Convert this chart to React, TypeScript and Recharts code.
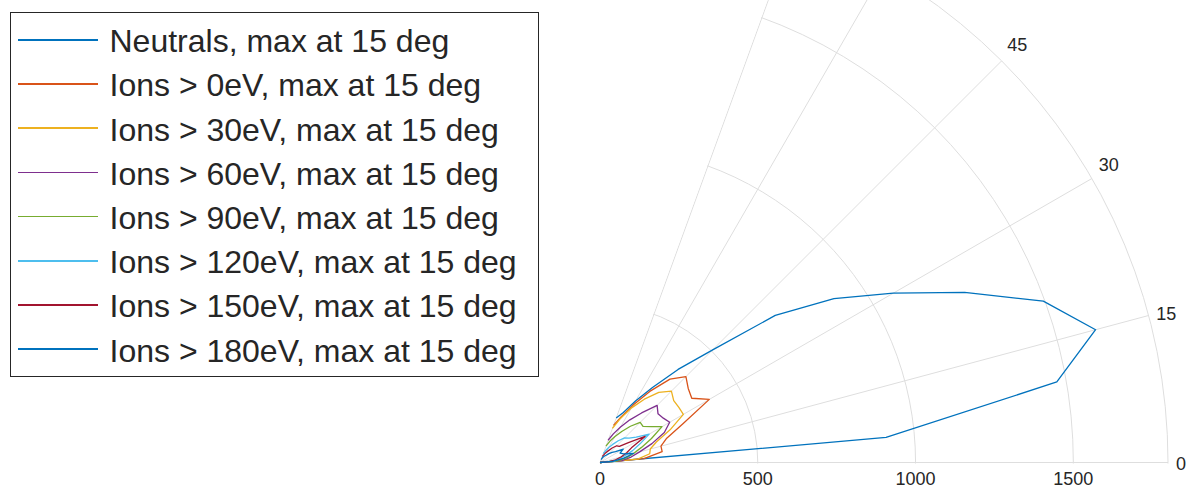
import {
  RadarChart,
  Radar,
  PolarGrid,
  PolarAngleAxis,
  PolarRadiusAxis,
  Legend,
} from 'recharts'

// polar angle of each sample, degrees (theta range is 0..70)
const angles = [0, 5, 10, 15, 20, 25, 30, 35, 40, 45, 50, 55, 60, 65, 70]

// yield per angle
const neutrals = [0, 910, 1470, 1626, 1495, 1275, 1073, 905, 725, 505, 385, 290, 225, 175, 150]
const ions0 = [0, 140, 200, 200, 225, 290, 400, 355, 365, 385, 345, 275, 210, 160, 125]
const ions30 = [0, 120, 160, 165, 190, 245, 305, 305, 305, 320, 290, 245, 200, 155, 115]
const ions60 = [0, 70, 100, 130, 175, 225, 255, 245, 240, 256, 205, 165, 130, 100, 75]
const ions90 = [0, 55, 85, 110, 140, 180, 227, 198, 178, 180, 150, 120, 95, 75, 55]
const ions120 = [0, 45, 60, 80, 110, 140, 180, 140, 120, 110, 90, 70, 55, 40, 30]
const ions150 = [0, 30, 50, 70, 90, 110, 165, 110, 80, 75, 60, 45, 35, 25, 20]
const ions180 = [0, 40, 75, 110, 80, 70, 85, 60, 50, 40, 30, 25, 20, 15, 10]

const angleTicks = [0, 15, 30, 45, 60, 70]
const radiusTicks = [0, 500, 1000, 1500, 1800]
const RMAX = 1800
const TMAX = 70

const series = [
  { key: 'neutrals', name: 'Neutrals, max at 15 deg', color: '#0072BD', values: neutrals },
  { key: 'ions0', name: 'Ions > 0eV, max at 15 deg', color: '#D95319', values: ions0 },
  { key: 'ions30', name: 'Ions > 30eV, max at 15 deg', color: '#EDB120', values: ions30 },
  { key: 'ions60', name: 'Ions > 60eV, max at 15 deg', color: '#7E2F8E', values: ions60 },
  { key: 'ions90', name: 'Ions > 90eV, max at 15 deg', color: '#77AC30', values: ions90 },
  { key: 'ions120', name: 'Ions > 120eV, max at 15 deg', color: '#4DBEEE', values: ions120 },
  { key: 'ions150', name: 'Ions > 150eV, max at 15 deg', color: '#A2142F', values: ions150 },
  { key: 'ions180', name: 'Ions > 180eV, max at 15 deg', color: '#0072BD', values: ions180 },
]

const data = angles.map((angle, i) => {
  const row: Record<string, number> = { angle }
  series.forEach((s) => {
    row[s.key] = s.values[i]
  })
  return row
})

const W = 1187
const H = 489
const CX = 600
const CY = 462.5
const OUTER = 568
const FONT = '"Liberation Sans", Arial, Helvetica, sans-serif'
const TEXT = '#262626'
const GRID = '#dedede'

// wedge between 0 and TMAX degrees, used to cut the full grid circles
const tan = Math.tan((TMAX * Math.PI) / 180)
const wedge = [
  [CX - 1.1, CY + 1],
  [CX + 1000, CY + 1],
  [CX + 1000, CY - 2000],
  [CX - 1.1 + 2001 / tan, CY - 2000],
]
  .map((p) => p.join(','))
  .join(' ')

function AngleTick(props: any) {
  const { x, y, payload } = props
  const a = Number(payload.value)
  const ty = a < 20 ? y + 1 : y - 10
  if (ty < 0) return <g />
  return (
    <text
      x={x}
      y={ty}
      textAnchor="start"
      dominantBaseline="central"
      fontSize={18}
      fontFamily={FONT}
      fill={TEXT}
    >
      {a}
    </text>
  )
}

function RadiusTick(props: any) {
  const { x, y, payload } = props
  if (payload.value === RMAX) return <g />
  return (
    <text
      x={x}
      y={y + 16.5}
      textAnchor="middle"
      dominantBaseline="central"
      fontSize={18}
      fontFamily={FONT}
      fill={TEXT}
    >
      {payload.value}
    </text>
  )
}

// polar line plot: an open polyline through the radar points
function openCurve(color: string) {
  return (props: any) => {
    const pts = props.points || []
    const d = pts.map((p: any, i: number) => `${i ? 'L' : 'M'}${p.x},${p.y}`).join('')
    return <path d={d} fill="none" stroke={color} strokeWidth={1.3} strokeLinejoin="round" />
  }
}

function LegendBox() {
  return (
    <div
      style={{
        boxSizing: 'border-box',
        width: 529,
        height: 365,
        border: '1.5px solid #262626',
        background: '#fff',
        paddingTop: 4.7,
        fontFamily: FONT,
      }}
    >
      {series.map((s) => (
        <div key={s.key} style={{ display: 'flex', alignItems: 'center', height: 44.2 }}>
          <div style={{ marginLeft: 6.5, width: 80, height: 1.6, background: s.color }} />
          <span
            style={{
              marginLeft: 12,
              fontSize: 32,
              lineHeight: 1,
              color: TEXT,
              whiteSpace: 'nowrap',
              position: 'relative',
              top: 1.5,
            }}
          >
            {s.name}
          </span>
        </div>
      ))}
    </div>
  )
}

export default function App() {
  return (
    <div style={{ position: 'absolute', left: 0, top: 0, width: W, height: H, background: '#fff' }}>
      <svg width={0} height={0} style={{ position: 'absolute' }}>
        <defs>
          <clipPath id="wedge">
            <polygon points={wedge} />
          </clipPath>
        </defs>
      </svg>
      <RadarChart
        width={W}
        height={H}
        data={data}
        cx={CX}
        cy={CY}
        innerRadius={0}
        outerRadius={OUTER}
        startAngle={0}
        endAngle={90}
        margin={{ top: 0, right: 0, bottom: 0, left: 0 }}
      >
        <PolarGrid gridType="circle" stroke={GRID} strokeWidth={1} clipPath="url(#wedge)" />
        <PolarAngleAxis
          dataKey="angle"
          type="number"
          domain={[0, 90]}
          ticks={angleTicks}
          tick={AngleTick}
          axisLine={false}
          tickLine={false}
        />
        <PolarRadiusAxis
          angle={0}
          type="number"
          domain={[0, RMAX]}
          ticks={radiusTicks}
          tick={RadiusTick}
          axisLine={false}
        />
        {series.map((s) => (
          <Radar
            key={s.key}
            name={s.name}
            dataKey={s.key}
            stroke={s.color}
            fill="none"
            dot={false}
            shape={openCurve(s.color)}
            isAnimationActive={false}
          />
        ))}
        <Legend
          layout="vertical"
          align="center"
          verticalAlign="middle"
          content={LegendBox}
          wrapperStyle={{ left: 10, top: 12, width: 529, height: 365 }}
        />
      </RadarChart>
    </div>
  )
}
